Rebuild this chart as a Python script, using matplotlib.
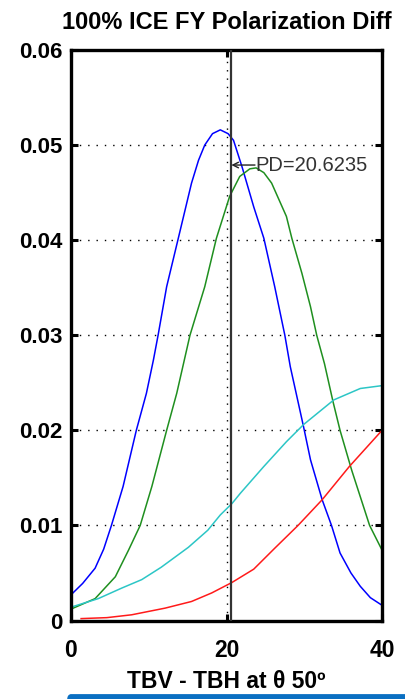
import numpy as np
import matplotlib
matplotlib.use("Agg")
import matplotlib.pyplot as plt
from matplotlib.patches import FancyBboxPatch

# curves
blue_x = [0, 1.5, 3.1, 4.2, 5.2, 6.7, 8.4, 9.7, 10.6, 11.2, 12.3, 13.8, 15.5, 16.4, 17.2, 18.2, 19.2, 20.2,
          20.9, 22.0, 23.5, 24.8, 26.2, 27.5, 28.2, 29.9, 30.8, 32.3, 33.5, 34.6, 36.0, 37.2, 38.5, 40]
blue_y = [0.0027, 0.0039, 0.0055, 0.0075, 0.0100, 0.0141, 0.0200, 0.0239, 0.0274, 0.0300, 0.0351,
          0.0402, 0.0460, 0.0484, 0.0500, 0.0512, 0.0516, 0.0512, 0.0505, 0.0477, 0.0435, 0.0402,
          0.0351, 0.0300, 0.0267, 0.0204, 0.0169, 0.0127, 0.0100, 0.0071, 0.0050, 0.0036, 0.0024, 0.0016]

green_x = [0, 3.1, 5.7, 7.4, 8.9, 10.4, 12.3, 13.6, 15.3, 17.2, 18.7, 20.4, 21.7, 23.0, 23.8, 24.8,
           25.8, 27.7, 28.4, 29.7, 30.8, 31.6, 32.6, 33.7, 34.6, 36.1, 38.4, 40]
green_y = [0.0012, 0.0023, 0.0046, 0.0074, 0.0100, 0.0141, 0.0200, 0.0239, 0.0300, 0.0351, 0.0402,
           0.0446, 0.0467, 0.0475, 0.0476, 0.0471, 0.0460, 0.0425, 0.0402, 0.0365, 0.0330, 0.0300,
           0.0270, 0.0230, 0.0200, 0.0158, 0.0100, 0.0074]

cyan_x = [0, 3.5, 6.5, 9.1, 11.6, 15.1, 17.6, 19.2, 20.7, 21.8, 24.8, 27.7, 29.9, 33.8, 37.2, 40]
cyan_y = [0.0014, 0.0023, 0.0034, 0.0043, 0.0056, 0.0077, 0.0095, 0.0111, 0.0123, 0.0134, 0.0162,
          0.0188, 0.0206, 0.0232, 0.0244, 0.0247]

red_x = [1.3, 4.6, 7.8, 12.1, 15.5, 18.1, 20.7, 23.5, 26.2, 29.2, 32.3, 35.8, 40]
red_y = [0.0002, 0.0003, 0.0006, 0.0013, 0.0020, 0.0029, 0.0040, 0.0054, 0.0076, 0.0100, 0.0127,
         0.0162, 0.0200]

pd_value = 20.6235
pd_label_y = 0.0479

x_ticks = [0, 20, 40]
y_ticks = [0, 0.01, 0.02, 0.03, 0.04, 0.05, 0.06]
y_ticklabels = ['0', '0.01', '0.02', '0.03', '0.04', '0.05', '0.06']

plt.rcParams['font.family'] = ['Liberation Sans', 'DejaVu Sans']

fig = plt.figure(figsize=(4.05, 6.99), dpi=100)
ax = fig.add_axes([0.1753, 0.1123, 0.768, 0.8162])

ax.plot(blue_x, blue_y, color='#0000ff', lw=1.1)
ax.plot(green_x, green_y, color='#1f8f1f', lw=1.1)
ax.plot(cyan_x, cyan_y, color='#2cc6c6', lw=1.1)
ax.plot(red_x, red_y, color='#ff1a1a', lw=1.1)

# PD marker and its label with a left arrow
ax.axvline(pd_value, color='#333333', lw=1.6, zorder=3)
ax.annotate('', xy=(pd_value, pd_label_y), xytext=(17, 0), textcoords='offset points',
            arrowprops=dict(arrowstyle='->', color='#222222', lw=1.0, shrinkA=0, shrinkB=0))
ax.annotate('PD=20.6235', xy=(pd_value, pd_label_y), xytext=(17, 0), textcoords='offset points',
            fontsize=14.5, color='#333333', ha='left', va='center')

ax.set_xlim(0, 40)
ax.set_ylim(0, 0.06)
ax.set_xticks(x_ticks)
ax.set_xticklabels([str(t) for t in x_ticks], fontsize=16.5, fontweight='bold')
ax.set_yticks(y_ticks)
ax.set_yticklabels(y_ticklabels, fontsize=16, fontweight='bold')

ax.grid(True, color='black', lw=1.0, linestyle=(0, (1, 5)))
ax.tick_params(direction='in', length=5, width=2.2, top=True, right=True, pad=6)
ax.tick_params(axis='x', pad=13)
for s in ax.spines.values():
    s.set_linewidth(2.4)

ax.set_title('100% ICE FY Polarization Diff', fontsize=17, fontweight='bold', pad=15)
ax.set_xlabel(u'TBV - TBH at \u03b8 50\u00ba', fontsize=16.5, fontweight='bold', labelpad=6)

# blue bar at the bottom edge of the picture
bar = FancyBboxPatch((67 / 405, -0.01), 0.9, 0.017, boxstyle='round,pad=0,rounding_size=0.01',
                     transform=fig.transFigure, facecolor='#0a6fc2', edgecolor='none')
fig.patches.append(bar)

fig.savefig('out.png', dpi=100)
